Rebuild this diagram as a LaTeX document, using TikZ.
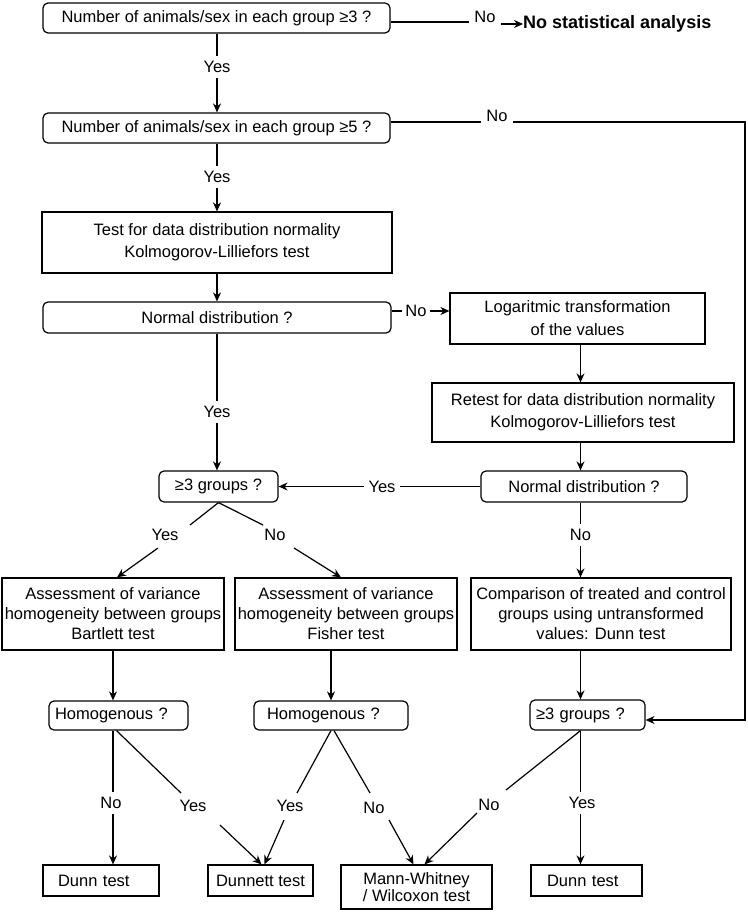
\documentclass[tikz,border=0pt]{standalone}
\usepackage{fontspec}
\setmainfont{Liberation Sans}
\usetikzlibrary{arrows.meta,calc}
\newcommand\fs{\fontsize{16.5}{20}\selectfont}
\begin{document}
\begin{tikzpicture}[x=1pt,y=-1pt,
  conn/.style={line width=1.2pt, draw=black},
  arr/.style={conn, -{Stealth[length=9pt,width=8pt]}},
  box/.style={draw, line width=1.2pt, inner sep=0pt, align=center, font=\fs},
  rbox/.style={box, rounded corners=5pt},
  lab/.style={font=\fs, inner sep=1pt, outer sep=4pt}]
\path[use as bounding box] (0,0) rectangle (747,912);
\coordinate (colR) at (580.5,0);
\coordinate (colA) at (113,0);

% top
\node[rbox, minimum width=347, minimum height=30] (b1) at (216.5,18) {Number of animals/sex in each group ≥3 ?};
\node[lab] (n1) at (485,17) {No};
\draw[conn] ([yshift=-4pt]b1.east) -- ([yshift=-4pt]b1.east -| n1.west);
\node[font=\fontsize{18}{20}\selectfont\bfseries, anchor=west, inner sep=0pt] (ns) at (523,24) {No statistical analysis};
\draw[arr] (n1.east |- ns.west) -- (ns.west);

\node[lab] (y1) at (217,67) {Yes};
\draw[conn] (y1.north |- b1.south) -- (y1.north);
\node[rbox, minimum width=347, minimum height=30] (b2) at (216.5,128) {Number of animals/sex in each group ≥5 ?};
\draw[arr] (y1.south) -- (y1.south |- b2.north);

\node[lab] (n2) at (497,116) {No};
\coordinate (r1) at (745,122);
\draw[conn] (b2.east |- r1) -- (n2.west |- r1);

\node[lab] (y2) at (217,177) {Yes};
\draw[conn] (y2.north |- b2.south) -- (y2.north);
\node[box, minimum width=350, minimum height=61, font=\fontsize{16.5}{22}\selectfont] (b3) at (217,242.5) {Test for data distribution normality\\Kolmogorov-Lilliefors test};
\draw[arr] (y2.south) -- (y2.south |- b3.north);

\node[rbox, minimum width=348, minimum height=31] (b4) at (217,317.5) {Normal distribution ?};
\draw[arr] (b3.south) -- (b4.north);

\node[box, minimum width=255, minimum height=51, font=\fontsize{16.5}{23}\selectfont] (b5) at (577.5,318.5) {Logaritmic transformation\\of the values};
\node[lab, outer sep=2pt] (n3) at (416,311) {No};
\draw[conn] (b4.east |- n3) -- (n3.west);
\draw[arr] (n3.east) -- (b5.west |- n3.east);

\node[box, minimum width=302, minimum height=59, font=\fontsize{16.5}{22}\selectfont] (b6) at (583,412.5) {Retest for data distribution normality\\Kolmogorov-Lilliefors test};
\draw[arr] (colR |- b5.south) -- (colR |- b6.north);

\node[rbox, minimum width=206, minimum height=31] (b7) at (584,486.5) {Normal distribution ?};
\draw[arr] (colR |- b6.south) -- (colR |- b7.north);

\node[rbox, minimum width=119, minimum height=31] (b8) at (218.5,486.5) {≥3 groups ?};
\node[lab] (y3) at (217,412) {Yes};
\draw[conn] (y3.north |- b4.south) -- (y3.north);
\draw[arr] (y3.south) -- (y3.south |- b8.north);

\node[lab] (y4) at (382,486.5) {Yes};
\draw[conn] (b7.west) -- (y4.east);
\draw[arr] (y4.west) -- (b8.east);

% second level
\node[box, minimum width=222, minimum height=72] (b9) at (113,614) {Assessment of variance\\homogeneity between groups\\Bartlett test};
\node[box, minimum width=222, minimum height=72] (b10) at (346,614) {Assessment of variance\\homogeneity between groups\\Fisher test};
\node[box, minimum width=260, minimum height=72] (b11) at (601,614) {Comparison of treated and control\\groups using untransformed\\values: Dunn test};

\coordinate (p1) at (190,525);
\coordinate (p2) at (263,525);
\coordinate (p3) at (158,548);
\coordinate (p4) at (294,548);
\draw[conn] (b8.south) -- (p1);
\draw[conn] (b8.south) -- (p2);
\node[lab] (y5) at (165,535) {Yes};
\node[lab] (n5) at (275,535) {No};
\draw[arr] (p3) -- ([xshift=4pt]b9.north);
\draw[arr] (p4) -- ([xshift=-5pt]b10.north);

\node[lab] (n6) at (580.5,535) {No};
\draw[conn] (colR |- b7.south) -- (colR |- n6.north);
\draw[arr] (colR |- n6.south) -- (colR |- b11.north);

% homogeneity boxes
\node[rbox, minimum width=139, minimum height=29, text width=127, align=left] (b12) at (118.5,715.5) {Homogenous ?};
\node[rbox, minimum width=154, minimum height=29, text width=128, align=left] (b13) at (331,715.5) {Homogenous ?};
\node[rbox, minimum width=115, minimum height=30, text width=103, align=left] (b14) at (587.5,715) {≥3 groups ?};
\draw[arr] (colA |- b9.south) -- (colA |- b12.north);
\draw[arr] (b13.north |- b10.south) -- (b13.north);
\draw[arr] (colR |- b11.south) -- (colR |- b14.north);

\coordinate (b14r) at ([yshift=-5pt]b14.east);
\draw[arr] (n2.east |- r1) -- (r1) -- (r1 |- b14r) -- (b14r);

% bottom boxes
\node[box, minimum width=116, minimum height=31, text width=86, align=left] (b15) at (101,880.5) {Dunn test};
\node[box, minimum width=105, minimum height=31] (b16) at (260.5,880.5) {Dunnett test};
\node[box, minimum width=151, minimum height=44, font=\fontsize{16.5}{14.5}\selectfont] (b17) at (416.5,887) {Mann-Whitney\\/ Wilcoxon test};
\node[box, minimum width=111, minimum height=31, text width=79, align=left] (b18) at (586.5,880.5) {Dunn test};

\node[lab] (n7) at (111,803) {No};
\draw[conn] (colA |- b12.south) -- (colA |- n7.north);
\draw[arr] (colA |- n7.south) -- (colA |- b15.north);

\coordinate (q1) at (181,793);
\coordinate (q2) at (220,825);
\draw[conn] ([xshift=-2pt]b12.south) -- (q1);
\node[lab] (y7) at (193,806) {Yes};
\draw[arr] (q2) -- ([xshift=1pt]b16.north);

\coordinate (q3) at (297,793);
\coordinate (q4) at (284,820);
\draw[conn] (b13.south) -- (q3);
\node[lab] (y8) at (290,806) {Yes};
\draw[arr] (q4) -- ([xshift=4pt]b16.north);

\coordinate (q5) at (370,793);
\coordinate (q6) at (389,820);
\draw[conn] ([xshift=3pt]b13.south) -- (q5);
\node[lab] (n8) at (374,808) {No};
\draw[arr] (q6) -- ([xshift=-3pt]b17.north);

\coordinate (q7) at (506,790);
\coordinate (q8) at (477,813);
\draw[conn] ([xshift=-7pt]b14.south) -- (q7);
\node[lab] (n9) at (489,805) {No};
\draw[arr] (q8) -- ([xshift=8pt]b17.north);

\node[lab] (y9) at (582,803) {Yes};
\draw[conn] (colR |- b14.south) -- (colR |- y9.north);
\draw[arr] (colR |- y9.south) -- (colR |- b18.north);
\end{tikzpicture}
\end{document}
